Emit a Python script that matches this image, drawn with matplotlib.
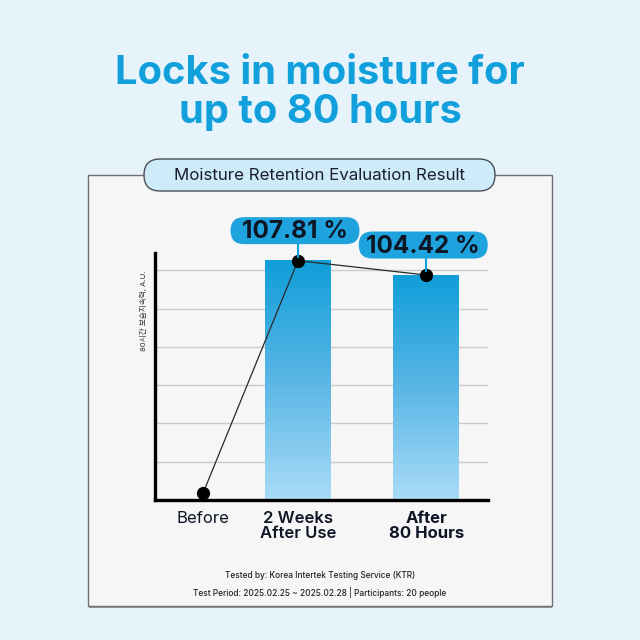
import numpy as np
import matplotlib.pyplot as plt
from matplotlib.patches import FancyBboxPatch, Rectangle
from matplotlib.colors import LinearSegmentedColormap

plt.rcParams['font.family'] = ['Inter', 'Noto Sans CJK KR', 'DejaVu Sans']

# data (A.U., grid step = 20)
categories = ['Before', '2 Weeks\nAfter Use', 'After\n80 Hours']
values = [3.5, 125.0, 117.5]
bar_values = [None, 125.0, 117.5]
pct_labels = [None, '107.81 %', '104.42 %']
grid_ticks = [20, 40, 60, 80, 100, 120]

title = 'Locks in moisture for\nup to 80 hours'
header = 'Moisture Retention Evaluation Result'
ylabel = '80시간 보습지속력, A.U.'
footer = ['Tested by: Korea Intertek Testing Service (KTR)',
          'Test Period: 2025.02.25 ~ 2025.02.28 | Participants: 20 people']

# layout
xpos = [0.0, 1.0, 2.35]
bar_w = 0.69
BG = '#e6f3fb'
BLUE = '#12a0dd'
NAVY = '#0e1626'


def pixel_layer(z):
    # full-figure axes in pixel coords, y pointing down
    a = fig.add_axes([0, 0, 1, 1], zorder=z)
    a.set_xlim(0, 640)
    a.set_ylim(640, 0)
    a.axis('off')
    return a


fig = plt.figure(figsize=(6.4, 6.4), dpi=100, facecolor=BG)

deco = pixel_layer(0)
deco.add_patch(Rectangle((89, 177), 463, 431, facecolor='#9a9a9a', edgecolor='none', zorder=1))
deco.add_patch(Rectangle((88, 175), 464, 431, facecolor='#f6f6f6', edgecolor='#707070', lw=1.0, zorder=2))
deco.add_patch(FancyBboxPatch((144, 159), 351, 32, boxstyle='round,pad=0,rounding_size=16',
                              facecolor='#cdebf8', edgecolor='#4a4f57', lw=1.0, zorder=3))
deco.text(320, 176, header, ha='center', va='center', fontsize=12.2, color='#1a1f2a', zorder=4)
deco.text(320, 93, title, ha='center', va='center', fontsize=28.7, fontweight='bold',
          color=BLUE, linespacing=1.1)
deco.text(320, 576, footer[0], ha='center', va='center', fontsize=6.0, fontweight='medium',
          color='#1f232b')
deco.text(320, 592, footer[1], ha='center', va='center', fontsize=6.0, fontweight='medium',
          color='#1f232b')

# chart
ax = fig.add_axes([155 / 640, 1 - 500 / 640, 333 / 640, 247 / 640], zorder=1)
ax.set_facecolor('none')

grad_cmap = LinearSegmentedColormap.from_list('g', ['#a9dcf7', '#5ab6e5', '#0f9ed9'])
grad = np.linspace(0, 1, 256).reshape(-1, 1)
for x, v in zip(xpos, bar_values):
    if v is None:
        continue
    ax.imshow(grad, cmap=grad_cmap, origin='lower', aspect='auto',
              extent=[x - bar_w / 2, x + bar_w / 2, 0, v], zorder=2)
ax.set_xlim(-0.505, 3.0)
ax.set_ylim(0, 129)

ax.set_yticks(grid_ticks)
ax.grid(axis='y', color='#cccccc', lw=1.0, zorder=1)
ax.set_axisbelow(True)
ax.tick_params(axis='y', length=0, labelleft=False)
ax.set_xticks(xpos)
ax.set_xticklabels(categories)
ax.tick_params(axis='x', length=0, pad=8)
weights = ['normal', 'semibold', 'bold']
for lab, w in zip(ax.get_xticklabels(), weights):
    lab.set_fontweight(w)
    lab.set_fontsize(12)
    lab.set_color(NAVY)
    lab.set_linespacing(1.0)

for s in ['top', 'right']:
    ax.spines[s].set_visible(False)
for s in ['left', 'bottom']:
    ax.spines[s].set_linewidth(2.4)
    ax.spines[s].set_color('black')

ax.plot(xpos, values, color='#2a2a2a', lw=0.9, marker='o', ms=8.5,
        mfc='black', mec='black', zorder=5, clip_on=False)

ax.text(-0.025, 0.93, ylabel, transform=ax.transAxes, rotation=90, ha='right', va='top',
        fontsize=5.5, color='#333333')

# value callouts: pill above each bar top, placed via the data transform
call = pixel_layer(2)
for x, v, lab in zip(xpos, values, pct_labels):
    if lab is None:
        continue
    px, py = ax.transData.transform((x, v))
    my = 640 - py
    cx, cy = px - 3, my - 30
    call.plot([px, px], [cy + 13, my - 4], color=BLUE, lw=1.5, zorder=1)
    call.add_patch(FancyBboxPatch((cx - 64.5, cy - 13.5), 129, 27,
                                  boxstyle='round,pad=0,rounding_size=13.5',
                                  facecolor='#1ea3df', edgecolor='none', zorder=2))
    call.text(cx, cy + 1, lab, ha='center', va='center', fontsize=17.5, fontweight='bold',
              color=NAVY, zorder=3)

fig.savefig('out.png', dpi=100, facecolor=BG)
